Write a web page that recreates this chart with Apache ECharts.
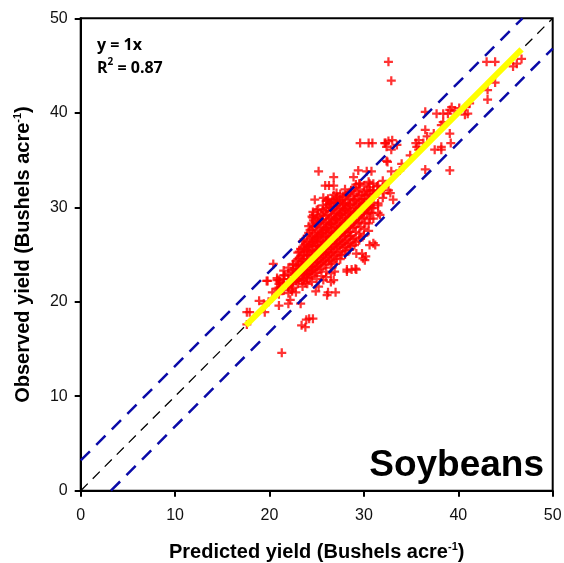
<!DOCTYPE html>
<html>
<head>
<meta charset="utf-8">
<script src="https://cdn.jsdelivr.net/npm/echarts@6/dist/echarts.min.js"></script>
<style>
html,body{margin:0;padding:0;background:#fff;}
#chart{width:564px;height:563px;}
</style>
</head>
<body>
<div id="chart"></div>
<script>
// ---- data ----
var xTicks = [0, 10, 20, 30, 40, 50];
var yTicks = [0, 10, 20, 30, 40, 50];

// dense core, read as columns: [predicted, [observed values...]]
var coreColumns = [
  [21.0, [21.5, 22.3, 20.8, 21.9]],
  [21.5, [22.0, 21.2, 22.8, 21.7, 23.3]],
  [22.0, [22.4, 21.6, 23.0, 22.0, 20.9, 23.6]],
  [22.3, [22.1, 23.2, 21.3]],
  [22.5, [22.8, 22.1, 23.4, 21.5, 24.0, 22.5, 23.9]],
  [22.8, [23.3, 22.2, 24.3, 21.0]],
  [23.0, [23.1, 22.4, 23.8, 21.9, 24.5, 22.9, 25.2, 23.5]],
  [23.15, [23.4, 24.6, 22.3, 25.3]],
  [23.3, [23.9, 22.6, 24.8, 25.6]],
  [23.5, [23.6, 22.8, 24.3, 22.2, 25.0, 23.2, 25.8, 24.0, 21.6, 26.4]],
  [23.65, [24.9, 23.4, 26.6, 25.6, 22.4]],
  [23.8, [24.2, 23.0, 25.3, 26.1, 22.0]],
  [24.0, [24.1, 23.3, 24.9, 22.5, 25.5, 23.8, 26.3, 24.5, 21.9, 27.0, 25.8, 22.9]],
  [24.15, [25.3, 24.1, 27.3, 26.0, 28.0, 23.0]],
  [24.3, [24.8, 23.5, 25.9, 26.7, 22.6, 27.6]],
  [24.5, [24.6, 23.7, 25.4, 22.8, 26.1, 24.2, 26.9, 25.0, 22.1, 27.6, 26.4, 23.3, 28.2]],
  [24.65, [25.9, 24.4, 27.9, 26.6, 28.6, 23.5, 29.2]],
  [24.8, [25.3, 24.0, 26.4, 27.2, 23.0, 28.4]],
  [25.0, [25.1, 24.2, 25.9, 23.1, 26.6, 24.7, 27.4, 25.5, 22.4, 28.1, 26.9, 23.7, 28.8, 25.3]],
  [25.15, [26.3, 24.9, 28.3, 27.1, 29.1, 23.8, 29.8]],
  [25.3, [25.8, 24.4, 26.9, 27.8, 23.4, 28.9]],
  [25.5, [25.6, 24.6, 26.4, 23.5, 27.1, 25.1, 27.9, 26.0, 22.7, 28.6, 27.3, 24.1, 29.3, 25.8]],
  [25.65, [26.8, 25.3, 28.7, 27.6, 29.7, 24.3, 30.2]],
  [25.8, [26.3, 24.9, 27.4, 28.3, 23.9, 29.5]],
  [26.0, [26.1, 25.1, 26.9, 24.0, 27.6, 25.6, 28.4, 26.5, 23.2, 29.1, 27.8, 24.6, 29.9, 26.3, 22.6]],
  [26.15, [27.3, 25.8, 29.2, 28.1, 30.3, 24.8, 30.7]],
  [26.3, [26.8, 25.3, 27.9, 28.8, 24.3, 30.0]],
  [26.5, [26.6, 25.6, 27.4, 24.4, 28.2, 26.1, 28.9, 27.0, 23.6, 29.6, 28.3, 25.1, 30.4, 26.8, 23.0]],
  [26.65, [27.8, 26.3, 29.7, 28.6, 30.8, 25.3, 24.2]],
  [26.8, [27.3, 25.8, 28.4, 29.3, 24.8, 30.5]],
  [27.0, [27.2, 26.1, 27.9, 24.9, 28.7, 26.6, 29.4, 27.5, 24.0, 30.1, 28.8, 25.6, 30.9, 27.3]],
  [27.15, [28.2, 26.8, 30.2, 29.1, 31.1, 25.8, 24.6]],
  [27.3, [27.8, 26.3, 28.9, 29.8, 25.2, 30.8]],
  [27.5, [27.6, 26.5, 28.4, 25.3, 29.2, 27.1, 29.9, 28.0, 24.5, 30.6, 29.3, 26.0, 31.4, 27.8]],
  [27.65, [28.7, 27.3, 30.7, 29.6, 25.0, 26.2]],
  [27.8, [28.3, 26.8, 29.4, 30.3, 25.7, 31.2]],
  [28.0, [28.1, 27.0, 28.9, 25.8, 29.7, 27.5, 30.4, 28.5, 25.0, 31.1, 29.8, 26.4, 31.9]],
  [28.15, [29.2, 27.7, 31.3, 30.1, 25.4, 26.6]],
  [28.3, [28.8, 27.3, 29.9, 30.8, 26.1]],
  [28.5, [28.6, 27.4, 29.4, 26.2, 30.2, 28.0, 30.9, 29.0, 25.5, 31.6, 30.3, 26.9]],
  [28.65, [29.6, 28.2, 31.8, 27.0, 25.9]],
  [28.8, [29.3, 27.8, 30.4, 31.2, 26.6]],
  [29.0, [29.1, 27.9, 29.9, 26.7, 30.7, 28.5, 31.4, 29.5, 26.0, 32.1, 30.8]],
  [29.15, [30.2, 28.7, 32.4, 27.4, 26.3]],
  [29.3, [29.8, 28.3, 30.9, 31.7]],
  [29.5, [29.6, 28.4, 30.4, 27.2, 31.2, 29.0, 31.9, 30.0, 26.5, 32.5]],
  [29.65, [30.7, 29.2, 27.9, 26.8]],
  [29.8, [30.3, 28.8, 31.3]],
  [30.0, [30.1, 28.9, 30.9, 27.7, 31.6, 29.5, 32.3, 30.5, 27.0]],
  [30.15, [31.3, 29.7, 28.3]],
  [30.3, [30.8, 29.3, 31.8]],
  [30.5, [30.6, 29.4, 31.4, 28.3, 32.1, 30.0, 32.7, 27.5]],
  [30.65, [31.8, 30.2, 28.8]],
  [30.8, [31.2, 29.9]],
  [31.0, [31.1, 29.9, 31.8, 28.8, 32.5, 30.5]],
  [31.5, [31.6, 30.4, 32.3, 29.4]],
  [32.0, [32.1, 31.0, 32.8]]
];

// scattered points outside the dense core: [predicted, observed]
var outerPoints = [
  [32.6,45.4],[32.9,43.4],
  [29.6,36.8],[30.5,36.8],[30.9,36.8],[32.3,36.8],[32.6,37.0],[32.9,36.1],[33.5,36.6],
  [32.5,34.8],[25.2,33.8],[26.8,33.2],[29.4,33.9],[30.3,33.8],[30.8,33.8],[32.9,33.8],[28.9,33.2],
  [25.9,32.3],[26.3,32.3],[26.8,32.3],[29.6,32.5],[30.6,32.5],
  [24.8,30.8],[25.7,31.0],[26.2,30.9],[26.8,31.3],[27.1,31.5],[26.0,30.7],
  [24.6,29.5],[25.0,29.7],[24.5,29.0],[24.6,28.9],
  [43.0,45.4],[43.9,45.4],[45.8,44.9],[46.2,45.2],[46.7,45.7],[43.9,43.2],[43.1,42.4],[43.1,41.4],
  [41.2,41.0],[40.8,40.6],[40.1,40.5],[39.3,40.6],[39.1,40.3],[38.9,39.9],[38.4,39.9],[37.7,39.9],
  [36.5,40.1],[40.7,39.8],[41.0,39.9],[39.6,40.2],
  [38.4,39.0],[38.2,38.7],[36.5,38.2],[36.7,37.5],[35.8,37.1],[35.5,36.8],[36.3,36.8],[37.4,37.8],
  [39.1,37.8],[39.2,36.8],[38.2,36.4],[37.5,36.1],[38.2,36.1],[35.6,36.4],[35.8,36.1],
  [32.2,36.8],[32.4,36.4],[33.0,37.1],[32.4,34.9],
  [34.9,35.5],[34.0,34.6],[33.8,33.9],[36.5,34.0],[39.1,33.9],
  [32.2,32.2],[32.6,31.8],[32.8,31.5],[32.1,31.5],[33.1,30.8],[31.0,31.8],[31.4,32.2],
  [17.6,18.9],[17.9,18.9],[17.6,17.6],[19.5,18.9],[19.9,20.0],[19.4,19.8],[19.7,22.2],[18.9,20.1],[20.3,21.0],
  [21.0,19.6],[22.0,19.8],[23.3,19.8],[24.2,18.2],[24.6,18.2],[23.9,18.1],[23.4,17.5],[23.8,17.3],[21.3,14.6],
  [24.9,21.1],[26.1,20.7],[22.4,21.1],[26.2,21.0],[27.0,21.0],[26.5,22.1],[25.2,21.6],[28.2,23.2],[29.2,23.4],
  [30.6,26.0],[31.2,26.0],[30.2,24.8],[29.9,24.6],[20.4,24.0],[19.8,22.2],[20.8,21.4],[20.8,22.3],[21.5,22.4],[22.2,20.2],
  [20.8,22.5],[21.1,22.1],[20.9,21.2],[21.6,22.8],[22.0,21.8],
  [30.3,30.1],[31.5,30.2],[30.8,29.4],[31.7,29.2],[31.0,26.2],[29.8,25.1],[30.1,24.4],[29.2,25.1],
  [28.2,23.4],[28.7,23.4],[29.1,23.5],[26.9,23.2],[26.8,22.3],[25.7,22.3],
  [26.4,30.4],[27.1,30.6],[27.8,30.4]
];

var oneToOneLine = [[0, 0], [50, 50]];
var upperBand = [[0, 3.2], [46.8, 50]];
var lowerBand = [[3.2, 0], [50, 46.8]];
var fitLine = [[17.5, 17.5], [46.7, 46.7]];

// ---- build ----
var scatterData = [];
coreColumns.forEach(function (c) {
  c[1].forEach(function (y) { scatterData.push([c[0], y]); });
});
outerPoints.forEach(function (p) { scatterData.push(p); });

var plus = 'path://M3,0H5V3H8V5H5V8H3V5H0V3H3Z';
var chart = echarts.init(document.getElementById('chart'), null, {renderer: 'canvas'});

var axisLabelStyle = {color: '#111', fontFamily: 'Liberation Sans', fontSize: 16};
var nameRich = {
  t: {fontFamily: 'Liberation Sans', fontWeight: 'bold', fontSize: 20, color: '#000', verticalAlign: 'bottom'},
  s: {fontFamily: 'Liberation Sans', fontWeight: 'bold', fontSize: 11, color: '#000', verticalAlign: 'top', padding: [0, 0, 10, 0]}
};

chart.setOption({
  animation: false,
  backgroundColor: '#fff',
  grid: {left: 80.7, right: 11.3, top: 18.3, bottom: 72.3, containLabel: false, outerBoundsMode: 'none',
         show: true, borderColor: '#000', borderWidth: 2, backgroundColor: 'transparent'},
  xAxis: {
    type: 'value', min: xTicks[0], max: xTicks[xTicks.length - 1], interval: 10,
    axisLine: {show: true, onZero: false, lineStyle: {color: '#000', width: 2}},
    axisTick: {show: true, length: 6, lineStyle: {color: '#000', width: 2}},
    axisLabel: Object.assign({margin: 17}, axisLabelStyle),
    splitLine: {show: false},
    name: '{t|Predicted yield (Bushels acre}{s|-1}{t|)}',
    nameLocation: 'middle', nameGap: 51,
    nameTextStyle: {rich: nameRich}
  },
  yAxis: {
    type: 'value', min: yTicks[0], max: yTicks[yTicks.length - 1], interval: 10,
    axisLine: {show: true, onZero: false, lineStyle: {color: '#000', width: 2}},
    axisTick: {show: true, length: 6, lineStyle: {color: '#000', width: 2}},
    axisLabel: Object.assign({margin: 13}, axisLabelStyle),
    splitLine: {show: false},
    name: '{t|Observed yield (Bushels acre}{s|-1}{t|)}',
    nameLocation: 'middle', nameGap: 47, nameRotate: 90,
    nameTextStyle: {rich: nameRich}
  },
  graphic: [
    {type: 'text', left: 97, top: 37, style: {text: 'y = 1x', font: 'bold 16px "Open Sans"', fill: '#000'}},
    {type: 'text', left: 97, top: 57, style: {
      text: '{t|R}{s|2}{t| = 0.87}',
      rich: {
        t: {font: 'bold 16px "Open Sans"', fill: '#000', verticalAlign: 'bottom'},
        s: {font: 'bold 10px "Open Sans"', fill: '#000', verticalAlign: 'top', padding: [0, 0, 9, 0]}
      }
    }},
    {type: 'text', right: 20, top: 447, style: {text: 'Soybeans', font: 'bold 37px "Liberation Sans"', fill: '#000'}}
  ],
  series: [
    {type: 'scatter', data: scatterData, symbol: plus, symbolSize: 9, itemStyle: {color: '#ff0000'}, z: 2, silent: true},
    {type: 'line', data: oneToOneLine, symbol: 'none', lineStyle: {color: '#000', width: 1.3, type: [10, 7]}, z: 3, silent: true},
    {type: 'line', data: upperBand, symbol: 'none', lineStyle: {color: '#0a0aa8', width: 2.5, type: [13, 9]}, z: 4, silent: true},
    {type: 'line', data: lowerBand, symbol: 'none', lineStyle: {color: '#0a0aa8', width: 2.5, type: [13, 9]}, z: 4, silent: true},
    {type: 'line', data: fitLine, symbol: 'none', lineStyle: {color: '#ffff00', width: 6}, z: 5, silent: true}
  ]
});
</script>
</body>
</html>
